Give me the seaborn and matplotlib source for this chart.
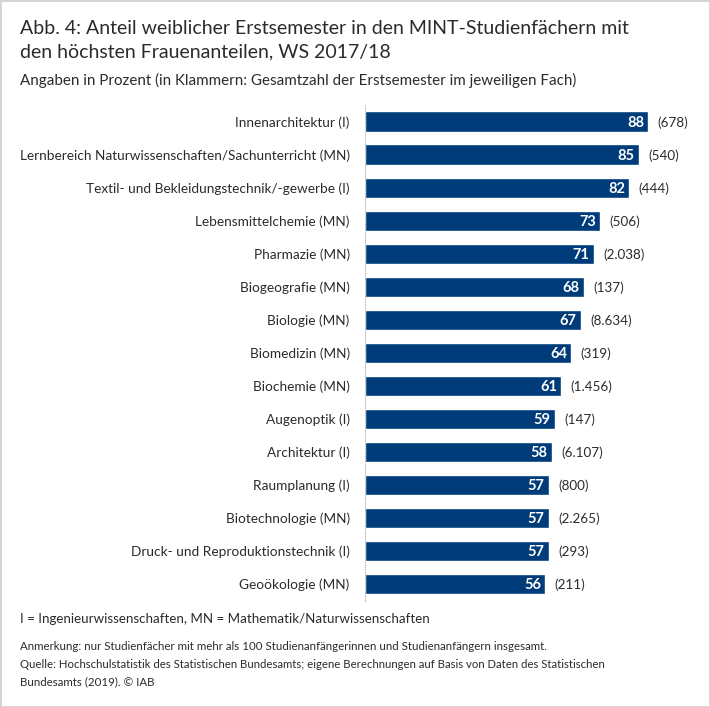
import matplotlib
matplotlib.use("Agg")
import matplotlib.pyplot as plt
import pandas as pd
import seaborn as sns

subjects = [
    "Innenarchitektur (I)",
    "Lernbereich Naturwissenschaften/Sachunterricht (MN)",
    "Textil- und Bekleidungstechnik/-gewerbe (I)",
    "Lebensmittelchemie (MN)",
    "Pharmazie (MN)",
    "Biogeografie (MN)",
    "Biologie (MN)",
    "Biomedizin (MN)",
    "Biochemie (MN)",
    "Augenoptik (I)",
    "Architektur (I)",
    "Raumplanung (I)",
    "Biotechnologie (MN)",
    "Druck- und Reproduktionstechnik (I)",
    "Geoökologie (MN)",
]
shares = [88, 85, 82, 73, 71, 68, 67, 64, 61, 59, 58, 57, 57, 57, 56]
totals = ["678", "540", "444", "506", "2.038", "137", "8.634", "319", "1.456",
          "147", "6.107", "800", "2.265", "293", "211"]

W, H = 710, 707
BLUE = "#003c7a"
TEXT = "#2b2b2b"

sns.set_theme(style="white")
plt.rcParams["font.family"] = ["Lato", "DejaVu Sans"]

df = pd.DataFrame({"subject": subjects, "share": shares})

fig = plt.figure(figsize=(W / 100, H / 100), dpi=100, facecolor="white")
ax = fig.add_axes([365 / W, 1 - 600.5 / H, (710 - 365) / W, (600.5 - 105) / H])
sns.barplot(ax=ax, data=df, x="share", y="subject", color=BLUE, saturation=1, width=0.61)
ax.set_xlim(0, 345 / 3.22)
ax.set(xlabel="", ylabel="", xticks=[])
ax.tick_params(axis="y", length=0, pad=11, labelsize=9.85, labelcolor=TEXT)
sns.despine(ax=ax, left=False, bottom=True)
ax.spines["left"].set(linestyle=":", color="#bbbbbb", linewidth=0.7)

for i, (v, t) in enumerate(zip(shares, totals)):
    ax.text(v - 1.3, i, str(v), ha="right", va="center_baseline", color="white",
            fontsize=10.5, fontweight="bold")
    ax.text(v + 2.9, i, f"({t})", ha="left", va="center_baseline", color=TEXT, fontsize=9.7)

fig.text(20 / W, 1 - 29 / H, "Abb. 4: Anteil weiblicher Erstsemester in den MINT-Studienfächern mit",
         fontsize=14, color=TEXT, va="center")
fig.text(20 / W, 1 - 52 / H, "den höchsten Frauenanteilen, WS 2017/18",
         fontsize=14, color=TEXT, va="center")
fig.text(20 / W, 1 - 80 / H, "Angaben in Prozent (in Klammern: Gesamtzahl der Erstsemester im jeweiligen Fach)",
         fontsize=10.9, color=TEXT, va="center")
fig.text(20 / W, 1 - 619 / H, "I = Ingenieurwissenschaften, MN = Mathematik/Naturwissenschaften",
         fontsize=9.65, color=TEXT, va="center")
fig.text(20 / W, 1 - 647 / H, "Anmerkung: nur Studienfächer mit mehr als 100 Studienanfängerinnen und Studienanfängern insgesamt.",
         fontsize=8.25, color=TEXT, va="center")
fig.text(20 / W, 1 - 665 / H, "Quelle: Hochschulstatistik des Statistischen Bundesamts; eigene Berechnungen auf Basis von Daten des Statistischen",
         fontsize=8.2, color=TEXT, va="center")
fig.text(20 / W, 1 - 682 / H, "Bundesamts (2019). © IAB",
         fontsize=8.25, color=TEXT, va="center")

# frame round the whole graphic
fig.patches.append(plt.Rectangle((0, 0), 1, 1, transform=fig.transFigure, fill=False,
                                 edgecolor="#d4d4d4", linewidth=2))

fig.savefig("out.png", dpi=100)
